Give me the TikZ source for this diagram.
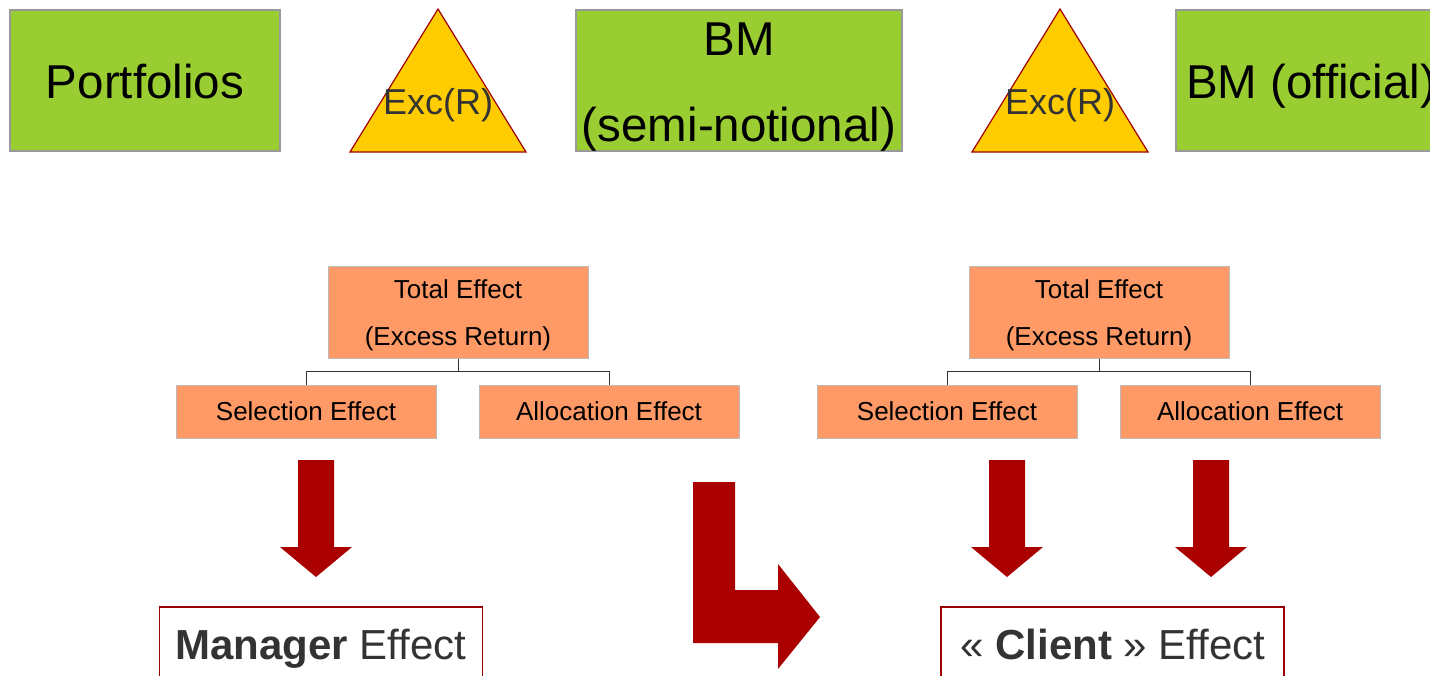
\documentclass[tikz,border=0pt]{standalone}
\usepackage{fontspec}
\setmainfont{Liberation Sans}
\definecolor{bmgreen}{HTML}{9ACD32}
\definecolor{boxgray}{HTML}{999999}
\definecolor{trifill}{HTML}{FFCC00}
\definecolor{trired}{HTML}{A00000}
\definecolor{orangefill}{HTML}{FF9966}
\definecolor{orangeline}{HTML}{BBBBBB}
\definecolor{arrred}{HTML}{AA0000}
\definecolor{effred}{HTML}{990000}
\definecolor{txtgray}{HTML}{333333}
\definecolor{linegray}{HTML}{333333}
\begin{document}
\begin{tikzpicture}[x=1pt,y=-1pt,
  greenbox/.style={draw=boxgray, line width=2pt, fill=bmgreen, inner sep=0pt,
    minimum height=141, font=\fontsize{47.5}{57}\selectfont, text=black},
  bigtext/.style={inner sep=0pt, font=\fontsize{47.5}{57}\selectfont, text=black},
  tritext/.style={inner sep=0pt, font=\fontsize{36}{43}\selectfont, text=txtgray},
  tri/.style={fill=trifill, draw=trired, line width=1.2pt, line join=miter},
  obox/.style={draw=orangeline, line width=1pt, fill=orangefill, inner sep=0pt,
    minimum width=260, align=center, font=\fontsize{26}{47}\selectfont, text=black},
  treeline/.style={draw=linegray, line width=1pt},
  effbox/.style={draw=effred, line width=1.5pt, fill=white, inner sep=0pt,
    minimum width=323, minimum height=120},
  efftext/.style={inner sep=0pt, font=\fontsize{42}{50}\selectfont, text=txtgray},
  downarr/.pic={\fill[arrred] (-18,0) -- (18,0) -- (18,87) -- (36,87) -- (0,117)
     -- (-36,87) -- (-18,87) -- cycle;}
]
\useasboundingbox (0,0) rectangle (1430,675);
\clip (0,0) rectangle (1430,675);

% top row
\node[greenbox, minimum width=270, text height=36, text depth=0pt] (port) at (145,80.5) {Portfolios};
\fill[tri] (350,152) -- (438,9) -- (526,152) -- cycle;
\node[tritext] (exc1) at (438,105) {Exc(R)};
\node[greenbox, minimum width=326] (bm) at (739,80.5) {};
\node[bigtext, anchor=base] (bmt1) at (739,55) {BM};
\node[bigtext, anchor=base] (bmt2) at (739,141) {(semi-notional)};
\fill[tri] (972,152) -- (1060,9) -- (1148,152) -- cycle;
\node[tritext] (exc2) at (1060,105) {Exc(R)};
\node[greenbox, minimum width=270, text height=36, text depth=0pt] (bmo) at (1311,80.5) {BM (official)};

% left tree
\node[obox, minimum height=92] (tot1) at (458,312) {\rule{0pt}{25pt}Total Effect\\(Excess Return)};
\node[obox, minimum height=53] (sel1) at (306,411.5) {Selection Effect};
\node[obox, minimum height=53] (alc1) at (609,411.5) {Allocation Effect};
\draw[treeline] (tot1.south) -- ++(0,13) -| (sel1.north);
\draw[treeline] (tot1.south) -- ++(0,13) -| (alc1.north);

% right tree
\node[obox, minimum height=92] (tot2) at (1099,312) {\rule{0pt}{25pt}Total Effect\\(Excess Return)};
\node[obox, minimum height=53] (sel2) at (947,411.5) {Selection Effect};
\node[obox, minimum height=53] (alc2) at (1250,411.5) {Allocation Effect};
\draw[treeline] (tot2.south) -- ++(0,13) -| (sel2.north);
\draw[treeline] (tot2.south) -- ++(0,13) -| (alc2.north);

% arrows
\pic at (316,460) {downarr};
\pic at (1007,460) {downarr};
\pic at (1211,460) {downarr};
\fill[arrred] (693,482) -- (735,482) -- (735,590) -- (778,590) -- (778,564)
  -- (820,617) -- (778,669) -- (778,643) -- (693,643) -- cycle;

% effect boxes
\node[effbox, anchor=north] (mgrbox) at (321,606) {};
\node[efftext, anchor=base] (mgr) at (321,659) {\textbf{Manager} Effect};
\node[effbox, anchor=north, minimum width=343] (clibox) at (1112.5,606) {};
\node[efftext, anchor=base] (cli) at (1113,659) {« \textbf{Client} » Effect};
\end{tikzpicture}
\end{document}
